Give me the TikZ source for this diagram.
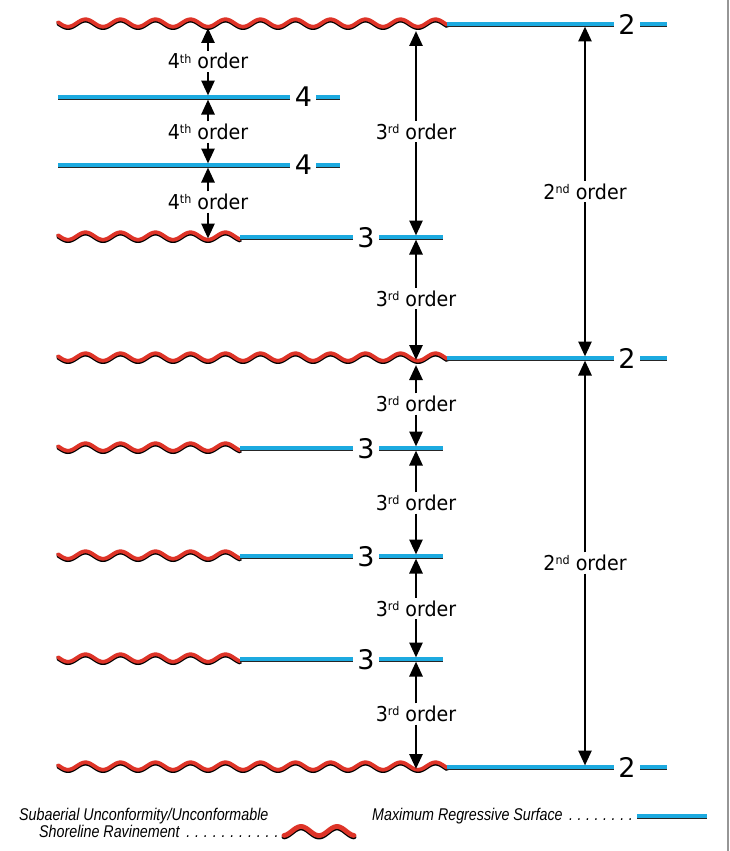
\documentclass[tikz,border=0pt]{standalone}
\usepackage{fontspec}
\setmainfont{DejaVu Sans}
\newfontfamily\labfont[FakeStretch=0.93]{DejaVu Sans}
\newfontfamily\legfont[FakeStretch=0.84]{Liberation Sans}
\usetikzlibrary{arrows.meta}
\definecolor{surfred}{RGB}{222,52,40}
\definecolor{surfblue}{RGB}{28,170,224}
\definecolor{edgegray}{RGB}{150,150,150}
\newcommand\ordsup[1]{\raisebox{5.8pt}{\fontsize{12}{12}\selectfont #1}}
\newcommand\leaderdots{\xleaders\hbox to 8.3pt{\hss.\hss}\hfill}
\newcommand\wavesurf[3]{%
 \draw[waveedge] plot[domain=#1:#2,samples=260] (\x,{#3+0.4+3.7*cos(((\x-68)/35)*360)});
 \draw[wavebody] plot[domain=#1:#2,samples=260] (\x,{#3-1+3.7*cos(((\x-68)/35)*360)});}
\newcommand\mrsurf[3]{%
 \draw[flatedge] (#1,#3+1.5) -- (#2,#3+1.5);
 \draw[flatbody] (#1,#3) -- (#2,#3);}
\tikzset{
 waveedge/.style={draw=black, line width=3.8pt, line cap=round, line join=round},
 wavebody/.style={draw=surfred, line width=3.8pt, line cap=round, line join=round},
 flatedge/.style={draw=black!85, line width=3.2pt},
 flatbody/.style={draw=surfblue, line width=4.4pt},
 dimarrow/.style={draw=black, line width=2.7pt, -{Triangle[width=13pt,length=15pt]}},
 ordlab/.style={font=\labfont\fontsize{20.5}{23}\selectfont, anchor=base, inner xsep=0pt, inner ysep=3pt, text height=15pt, text depth=0pt},
 digit/.style={font=\fontsize{27}{30}\selectfont, inner sep=0pt, text depth=0pt},
 legtext/.style={font=\legfont\itshape\fontsize{17}{19}\selectfont, anchor=base west, inner sep=0pt}
}
\begin{document}
\begin{tikzpicture}[x=1pt,y=-1pt]
\useasboundingbox (0,0) rectangle (729,851);
\fill[white] (0,0) rectangle (729,851);
\draw[edgegray, line width=2.5pt] (727.75,0) -- (727.75,851);

% surfaces
\wavesurf{58}{447}{24}
\mrsurf{447}{614}{24}\mrsurf{640}{667}{24}
\mrsurf{58}{290}{97}\mrsurf{316}{340}{97}
\mrsurf{58}{290}{165}\mrsurf{316}{340}{165}
\wavesurf{58}{240}{237}
\mrsurf{240}{353}{237}\mrsurf{379}{443}{237}
\wavesurf{58}{447}{358}
\mrsurf{447}{614}{358}\mrsurf{640}{667}{358}
\wavesurf{58}{240}{448}
\mrsurf{240}{353}{448}\mrsurf{379}{443}{448}
\wavesurf{58}{240}{556}
\mrsurf{240}{353}{556}\mrsurf{379}{443}{556}
\wavesurf{58}{240}{659}
\mrsurf{240}{353}{659}\mrsurf{379}{443}{659}
\wavesurf{58}{447}{767}
\mrsurf{447}{614}{767}\mrsurf{640}{667}{767}

% surface numbers
\node[digit] (n2a) at (627,24) {2};
\node[digit] (n4a) at (303.5,97) {4};
\node[digit] (n4b) at (303.5,165) {4};
\node[digit] (n3a) at (366,237) {3};
\node[digit] (n2b) at (627,358) {2};
\node[digit] (n3b) at (366,448) {3};
\node[digit] (n3c) at (366,556) {3};
\node[digit] (n3d) at (366,659) {3};
\node[digit] (n2c) at (627,767) {2};

% arrow end points
\coordinate (c1a) at (208,28);
\coordinate (c1b) at (208,95.5);
\coordinate (c1c) at (208,99.5);
\coordinate (c1d) at (208,163.5);
\coordinate (c1e) at (208,167.5);
\coordinate (c1f) at (208,238.5);
\coordinate (c2a) at (416,31);
\coordinate (c2b) at (416,235.5);
\coordinate (c2c) at (416,239.5);
\coordinate (c2d) at (416,360);
\coordinate (c2e) at (416,365);
\coordinate (c2f) at (416,446.5);
\coordinate (c2g) at (416,450.5);
\coordinate (c2h) at (416,554.5);
\coordinate (c2i) at (416,558.5);
\coordinate (c2j) at (416,657.5);
\coordinate (c2k) at (416,661.5);
\coordinate (c2l) at (416,769);
\coordinate (c3a) at (585,26.5);
\coordinate (c3b) at (585,356.5);
\coordinate (c3c) at (585,360.5);
\coordinate (c3d) at (585,765.5);

% order labels
\node[ordlab] (o1a) at (208,69) {4\ordsup{th} order};
\node[ordlab] (o1b) at (208,139.5) {4\ordsup{th} order};
\node[ordlab] (o1c) at (208,209.5) {4\ordsup{th} order};
\node[ordlab] (o2a) at (416,139) {3\ordsup{rd} order};
\node[ordlab] (o2b) at (416,306) {3\ordsup{rd} order};
\node[ordlab] (o2c) at (416,411.5) {3\ordsup{rd} order};
\node[ordlab] (o2d) at (416,510.5) {3\ordsup{rd} order};
\node[ordlab] (o2e) at (416,616) {3\ordsup{rd} order};
\node[ordlab] (o2f) at (416,721.5) {3\ordsup{rd} order};
\node[ordlab] (o3a) at (585,199) {2\ordsup{nd} order};
\node[ordlab] (o3b) at (585,570.5) {2\ordsup{nd} order};

% arrows
\draw[dimarrow] (o1a.north) -- (c1a);
\draw[dimarrow] (o1a.south) -- (c1b);
\draw[dimarrow] (o1b.north) -- (c1c);
\draw[dimarrow] (o1b.south) -- (c1d);
\draw[dimarrow] (o1c.north) -- (c1e);
\draw[dimarrow] (o1c.south) -- (c1f);
\draw[dimarrow] (o2a.north) -- (c2a);
\draw[dimarrow] (o2a.south) -- (c2b);
\draw[dimarrow] (o2b.north) -- (c2c);
\draw[dimarrow] (o2b.south) -- (c2d);
\draw[dimarrow] (o2c.north) -- (c2e);
\draw[dimarrow] (o2c.south) -- (c2f);
\draw[dimarrow] (o2d.north) -- (c2g);
\draw[dimarrow] (o2d.south) -- (c2h);
\draw[dimarrow] (o2e.north) -- (c2i);
\draw[dimarrow] (o2e.south) -- (c2j);
\draw[dimarrow] (o2f.north) -- (c2k);
\draw[dimarrow] (o2f.south) -- (c2l);
\draw[dimarrow] (o3a.north) -- (c3a);
\draw[dimarrow] (o3a.south) -- (c3b);
\draw[dimarrow] (o3b.north) -- (c3c);
\draw[dimarrow] (o3b.south) -- (c3d);

% legend
\node[legtext] (leg1) at (19,820) {Subaerial Unconformity/Unconformable};
\node[legtext] (leg2) at (39,837) {\hbox to 242pt{Shoreline Ravinement \leaderdots}};
\node[legtext] (leg3) at (372,820) {\hbox to 263pt{Maximum Regressive Surface \leaderdots}};
\draw[waveedge, line width=4.8pt] plot[domain=284:354,samples=100] (\x,{832.5+4.5*cos(((\x-283)/36)*360)});
\draw[wavebody, line width=4.8pt] plot[domain=284:354,samples=100] (\x,{831+4.5*cos(((\x-283)/36)*360)});
\draw[flatedge, line width=3.5pt] (637,817.6) -- (707,817.6);
\draw[flatbody, line width=4.8pt] (637,816) -- (707,816);
\end{tikzpicture}
\end{document}
